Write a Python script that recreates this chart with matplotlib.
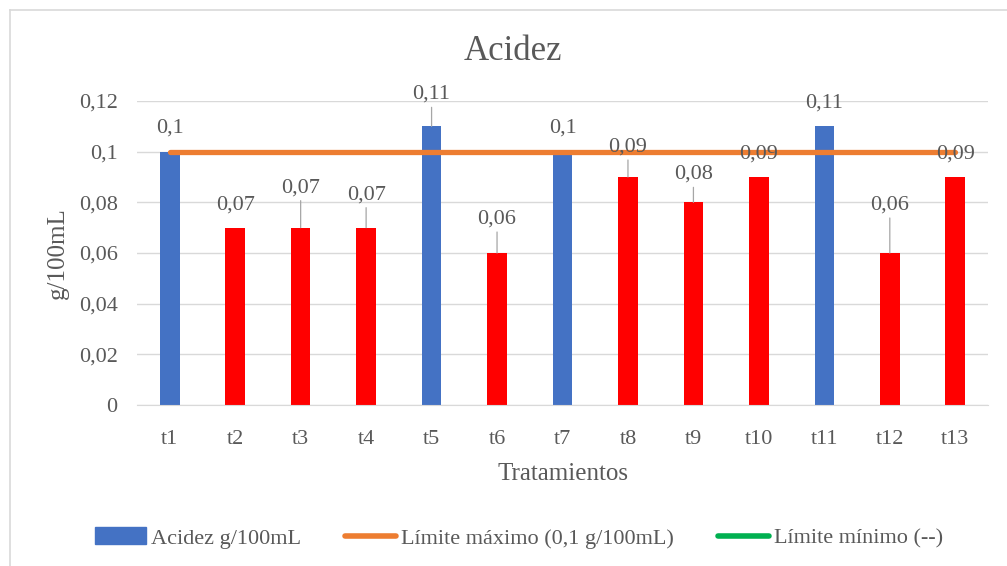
import numpy as np
import matplotlib.pyplot as plt
from matplotlib.lines import Line2D

plt.rcParams['font.family'] = ['Liberation Serif', 'DejaVu Serif']

# datos
tratamientos = ['t1', 't2', 't3', 't4', 't5', 't6', 't7', 't8', 't9', 't10', 't11', 't12', 't13']
acidez = [0.10, 0.07, 0.07, 0.07, 0.11, 0.06, 0.10, 0.09, 0.08, 0.09, 0.11, 0.06, 0.09]
etiquetas = ['0,1', '0,07', '0,07', '0,07', '0,11', '0,06', '0,1', '0,09', '0,08', '0,09', '0,11', '0,06', '0,09']
limite_max = [0.1] * len(tratamientos)
limite_min = []
ticks_y = [0, 0.02, 0.04, 0.06, 0.08, 0.1, 0.12]
ticks_y_txt = ['0', '0,02', '0,04', '0,06', '0,08', '0,1', '0,12']

# estilo
azul = '#4472C4'
rojo = '#FF0000'
naranja = '#ED7D31'
verde = '#00B050'
gris_txt = '#595959'
colores = [azul if v > 0.095 else rojo for v in acidez]
# desplazamiento de las etiquetas (pixeles sobre la barra)
desp = [24, 23, 40, 33, 32, 34, 24, 30, 28, 23, 23, 48, 23]

fig = plt.figure(figsize=(10.07, 5.66), dpi=100)
ax = fig.add_axes([137 / 1007, 1 - 405 / 566, (988 - 137) / 1007, (405 - 101) / 566])

x = np.arange(len(tratamientos))
ax.bar(x, acidez, width=0.3, color=colores, zorder=2)
ax.plot(x, limite_max, color=naranja, lw=3.8, zorder=3, solid_capstyle='round')

for i, (v, t) in enumerate(zip(acidez, etiquetas)):
    ax.annotate(t, (x[i], v), xytext=(0, desp[i]), textcoords='offset pixels',
                ha='center', va='center', fontsize=16, color=gris_txt, zorder=4)
    if desp[i] > 26:
        ax.annotate('', (x[i], v), xytext=(0, desp[i] - 13), textcoords='offset pixels',
                    arrowprops=dict(arrowstyle='-', color='#a6a6a6', lw=0.9,
                                    shrinkA=0, shrinkB=0), zorder=4)

ax.set_xlim(-0.5, len(tratamientos) - 0.5)
ax.set_ylim(0, 0.12)
ax.set_yticks(ticks_y)
ax.set_yticklabels(ticks_y_txt)
ax.set_xticks(x)
ax.set_xticklabels(tratamientos)
ax.tick_params(length=0, labelsize=16, labelcolor=gris_txt)
ax.tick_params(axis='x', pad=18)
ax.tick_params(axis='y', pad=14)
ax.grid(axis='y', color='#d9d9d9', lw=1, zorder=0)
for s in ['top', 'right', 'left']:
    ax.spines[s].set_visible(False)
ax.spines['bottom'].set_color('#d9d9d9')

fig.text(513 / 1007, 1 - 51 / 566, 'Acidez', fontsize=25, color=gris_txt, ha='center', va='center')
ax.set_xlabel('Tratamientos', fontsize=18, color=gris_txt, va='center')
ax.xaxis.set_label_coords(0.5, (405 - 474) / 304)
ax.set_ylabel('g/100mL', fontsize=18, color=gris_txt, va='center')
ax.yaxis.set_label_coords((58 - 137) / 851, 0.5)

handles = [plt.Rectangle((0, 0), 1, 1, color=azul),
           Line2D([], [], color=naranja, lw=4, solid_capstyle='round'),
           Line2D(limite_min, limite_min, color=verde, lw=4, solid_capstyle='round')]
nombres = ['Acidez g/100mL', 'Límite máximo (0,1 g/100mL)', 'Límite mínimo (--)']
leg = fig.legend(handles, nombres, loc='center', bbox_to_anchor=(519 / 1007, 1 - 538 / 566),
                 ncol=3, frameon=False, fontsize=16, handlelength=2.3, handleheight=0.8,
                 handletextpad=0.2, columnspacing=2.0)
for t in leg.get_texts():
    t.set_color(gris_txt)

# borde del grafico
fig.add_artist(Line2D([10 / 1007, 10 / 1007], [0, 1 - 10 / 566], color='#d9d9d9', lw=1.2))
fig.add_artist(Line2D([10 / 1007, 1], [1 - 10 / 566, 1 - 10 / 566], color='#d9d9d9', lw=1.2))

plt.savefig('out.png', dpi=100)
